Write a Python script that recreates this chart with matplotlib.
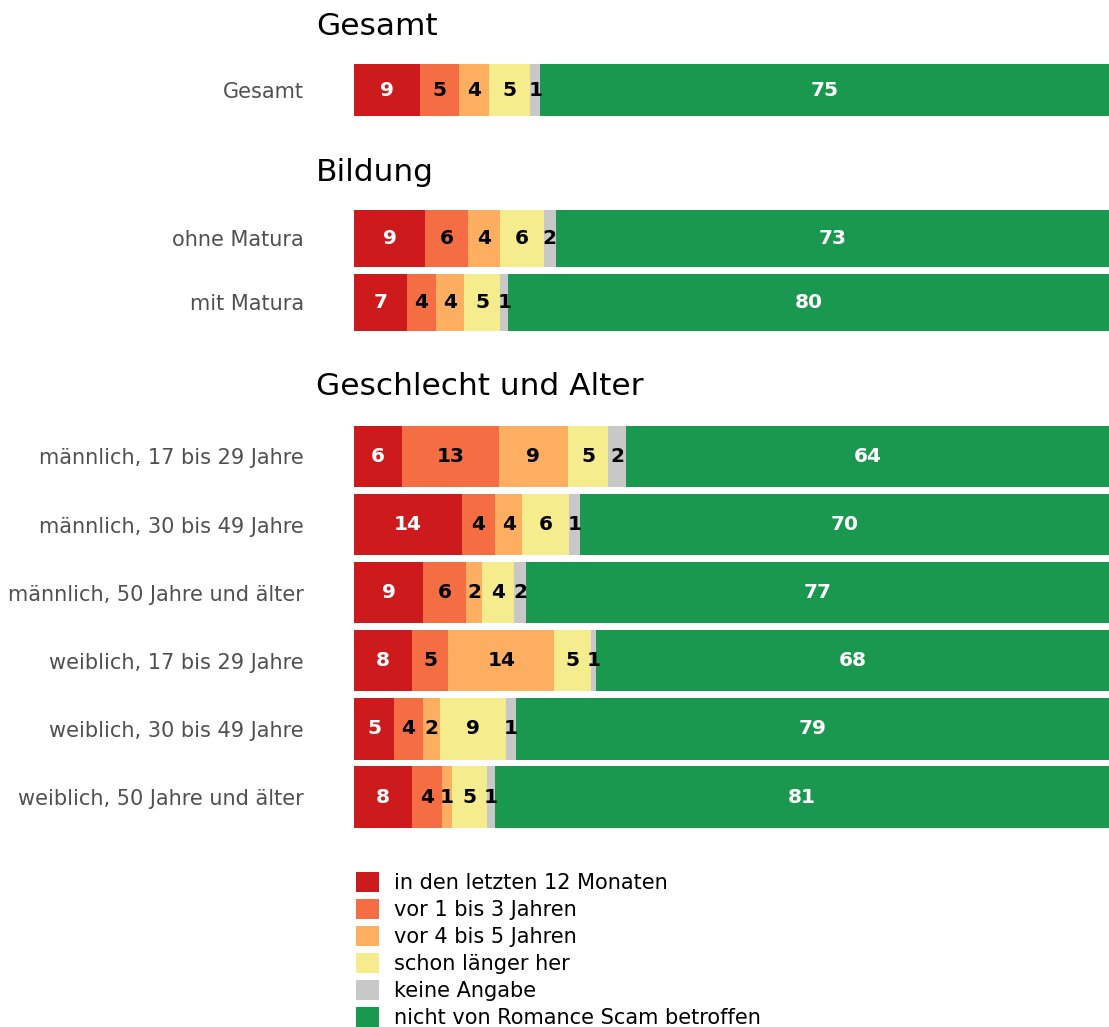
import matplotlib
matplotlib.use("Agg")
import matplotlib.pyplot as plt
import numpy as np

# categories (legend order) and colours
categories = ["in den letzten 12 Monaten", "vor 1 bis 3 Jahren", "vor 4 bis 5 Jahren",
              "schon länger her", "keine Angabe", "nicht von Romance Scam betroffen"]
colors = ["#CD1A1D", "#F46D43", "#FDAE61", "#F5EC8E", "#C8C8C8", "#1B984F"]
label_colors = ["white", "black", "black", "black", "black", "white"]

# sections: row labels, shares (percent)
gesamt_rows = ["Gesamt"]
gesamt_vals = [[8.7, 5.2, 4.0, 5.4, 1.4, 75.3]]

bildung_rows = ["ohne Matura", "mit Matura"]
bildung_vals = [[9.4, 5.7, 4.2, 5.8, 1.6, 73.3],
                [7.0, 3.9, 3.7, 4.8, 1.0, 79.6]]

ga_rows = ["männlich, 17 bis 29 Jahre", "männlich, 30 bis 49 Jahre",
           "männlich, 50 Jahre und älter", "weiblich, 17 bis 29 Jahre",
           "weiblich, 30 bis 49 Jahre", "weiblich, 50 Jahre und älter"]
ga_vals = [[6.4, 12.8, 9.1, 5.4, 2.3, 64.0],
           [14.3, 4.4, 3.6, 6.2, 1.4, 70.1],
           [9.2, 5.7, 2.0, 4.3, 1.6, 77.2],
           [7.7, 4.8, 14.0, 4.9, 0.7, 67.9],
           [5.3, 3.8, 2.3, 8.7, 1.3, 78.6],
           [7.7, 3.9, 1.4, 4.6, 1.1, 81.3]]

W, H = 1109, 1027
fig = plt.figure(figsize=(W / 100, H / 100), dpi=100)


def px_axes(top, bottom, left=354, right=1109):
    return fig.add_axes([left / W, 1 - bottom / H, (right - left) / W, (bottom - top) / H])


def section(ax, title, rows, vals, title_y):
    vals = np.array(vals)
    y = np.arange(len(rows))
    left = np.zeros(len(rows))
    handles = []
    for j, cat in enumerate(categories):
        b = ax.barh(y, vals[:, j], left=left, height=0.9, color=colors[j], label=cat)
        handles.append(b)
        for i, v in enumerate(vals[:, j]):
            ax.text(left[i] + v / 2, y[i], f"{round(v):d}", ha="center", va="center",
                    color=label_colors[j], fontsize=14.5, fontweight="bold")
        left += vals[:, j]
    ax.set_xlim(0, 100)
    ax.set_ylim(len(rows) - 0.5, -0.5)
    ax.set_yticks(y, rows)
    ax.set_xticks([])
    ax.tick_params(axis="y", length=0, pad=36, labelsize=15, labelcolor="#505050")
    for s in ax.spines.values():
        s.set_visible(False)
    fig.text(316 / W, 1 - title_y / H, title, fontsize=22.5, ha="left", va="baseline")
    return handles


h = section(px_axes(61, 119), "Gesamt", gesamt_rows, gesamt_vals, 35)
section(px_axes(206.5, 334.5), "Bildung", bildung_rows, bildung_vals, 181)
section(px_axes(422.4, 831.1), "Geschlecht und Alter", ga_rows, ga_vals, 395)

fig.legend(handles=h, labels=categories, loc="upper left",
           bbox_to_anchor=(356 / W, 1 - 872 / H), frameon=False, fontsize=15,
           handlelength=1.1, handleheight=1.1, handletextpad=0.7,
           labelspacing=0.28, borderpad=0, borderaxespad=0)

fig.savefig("out.png", dpi=100)
